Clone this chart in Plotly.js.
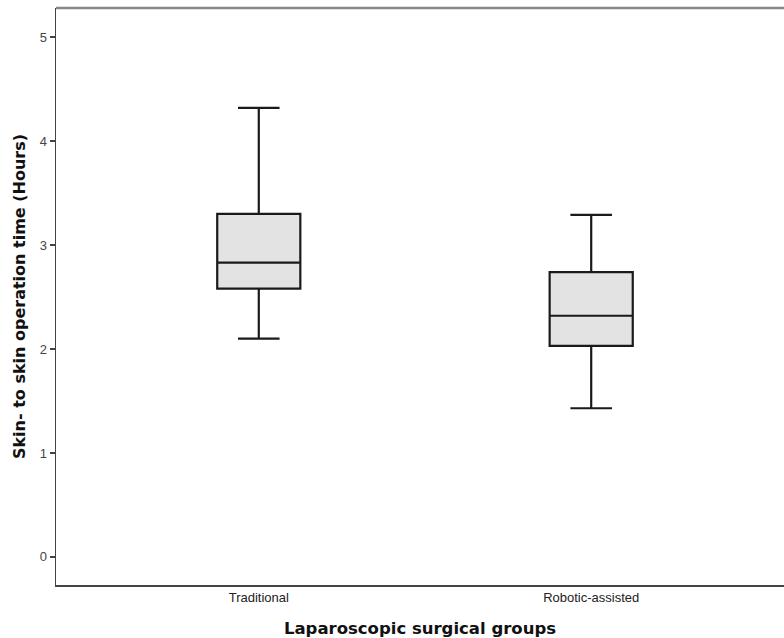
<!DOCTYPE html>
<html>
<head>
<meta charset="utf-8">
<script src="https://cdn.plot.ly/plotly-3.0.1.min.js"></script>
<style>html,body{margin:0;padding:0;background:#fff;}#chart{width:784px;height:638px;}</style>
</head>
<body>
<div id="chart"></div>
<script>
const groups = ["Traditional", "Robotic-assisted"];
const lowerWhisker = [2.10, 1.43];
const q1 = [2.58, 2.03];
const median = [2.83, 2.32];
const q3 = [3.30, 2.74];
const upperWhisker = [4.32, 3.29];
const yTicks = [0, 1, 2, 3, 4, 5];

const trace = {
  type: "box",
  x: groups,
  q1: q1,
  median: median,
  q3: q3,
  lowerfence: lowerWhisker,
  upperfence: upperWhisker,
  width: 0.25,
  whiskerwidth: 0.5,
  fillcolor: "#e3e3e3",
  line: {color: "#1a1a1a", width: 2.2},
  boxpoints: false,
  hoverinfo: "skip",
  showlegend: false
};

const layout = {
  width: 784,
  height: 638,
  margin: {l: 56, r: 0, t: 8, b: 53},
  paper_bgcolor: "#ffffff",
  plot_bgcolor: "#ffffff",
  font: {family: "Liberation Sans, Arial, sans-serif", color: "#333333"},
  xaxis: {
    type: "category",
    range: [-0.61, 1.58],
    showgrid: false,
    zeroline: false,
    showline: true,
    linecolor: "#444444",
    linewidth: 1.5,
    ticks: "",
    tickfont: {size: 13, color: "#222222"},
    title: {text: "Laparoscopic surgical groups", font: {size: 16.5, color: "#111111", family: "DejaVu Sans, sans-serif", weight: "bold"}, standoff: 20}
  },
  yaxis: {
    range: [-0.27, 5.28],
    tickvals: yTicks,
    showgrid: false,
    zeroline: false,
    showline: true,
    linecolor: "#444444",
    linewidth: 1.5,
    ticks: "outside",
    ticklen: 5,
    tickcolor: "#444444",
    tickwidth: 1.5,
    tickfont: {size: 13, color: "#444444"},
    title: {text: "Skin- to skin operation time (Hours)", font: {size: 16, color: "#111111", family: "DejaVu Sans, sans-serif", weight: "bold"}, standoff: 10}
  },
  shapes: [
    {type: "line", xref: "paper", yref: "paper", x0: 0, x1: 1, y0: 1, y1: 1, line: {color: "#888888", width: 2.5}}
  ]
};

Plotly.newPlot("chart", [trace], layout, {displayModeBar: false, staticPlot: true});
</script>
</body>
</html>
